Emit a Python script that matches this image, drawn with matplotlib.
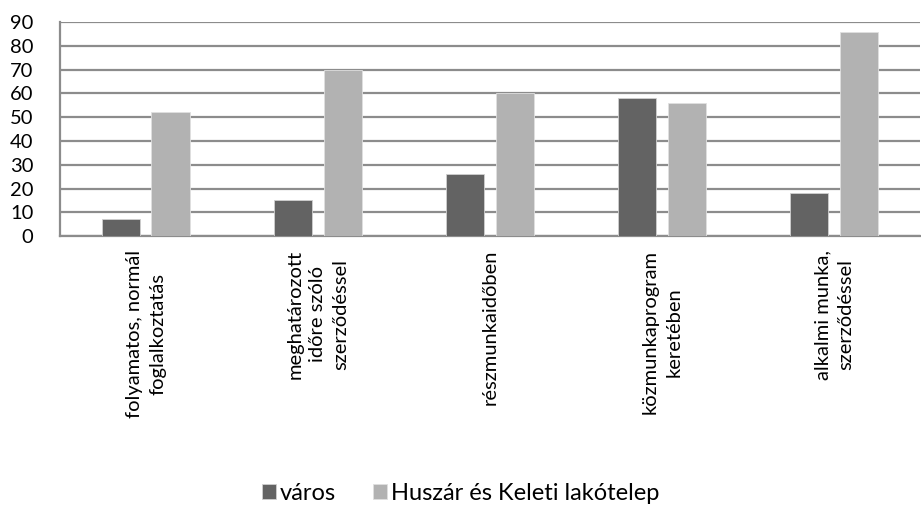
import matplotlib.pyplot as plt
import numpy as np

categories = [
    "folyamatos, normál\nfoglalkoztatás",
    "meghatározott\nidőre szóló\nszerződéssel",
    "részmunkaidőben",
    "közmunkaprogram\nkeretében",
    "alkalmi munka,\nszerződéssel",
]
varos = [7, 15, 26, 58, 18]
huszar = [52, 70, 60, 56, 86]
series_names = ["város", "Huszár és Keleti lakótelep"]

plt.rcParams["font.family"] = ["Lato", "DejaVu Sans"]

fig = plt.figure(figsize=(9.21, 5.17), dpi=100)
ax = fig.add_axes([0.065, 0.5435, 0.934, 0.4135])

x = np.arange(len(categories))
w = 0.225
ax.bar(x - 0.145, varos, width=w, color="#636363", edgecolor="#d0d0d0",
       linewidth=0.6, zorder=3, label=series_names[0])
ax.bar(x + 0.145, huszar, width=w, color="#b2b2b2", edgecolor="#e0e0e0",
       linewidth=0.6, zorder=3, label=series_names[1])

ax.set_xlim(-0.5, len(categories) - 0.5)
ax.set_ylim(0, 90)
ax.set_yticks(range(0, 91, 10))
ax.yaxis.grid(True, color="#8c8c8c", linewidth=1.6, zorder=0)
ax.set_axisbelow(True)
for side in ["top", "right"]:
    ax.spines[side].set_visible(False)
ax.spines["left"].set_color("#8c8c8c")
ax.spines["left"].set_linewidth(1.6)
ax.spines["bottom"].set_color("#8c8c8c")
ax.spines["bottom"].set_linewidth(1.6)
ax.tick_params(axis="y", length=0, pad=19, labelsize=14.5)
ax.tick_params(axis="x", length=0, pad=10, labelsize=14.5)
ax.set_xticks(x)
ax.set_xticklabels(categories, rotation=90, ha="center", va="top",
                   multialignment="center", linespacing=1.45)

fig.legend(loc="lower center", bbox_to_anchor=(0.5, -0.015), ncol=2,
           frameon=False, fontsize=17, handlelength=0.6, handleheight=0.6,
           handletextpad=0.15, columnspacing=1.6)

fig.savefig("out.png", dpi=100)
